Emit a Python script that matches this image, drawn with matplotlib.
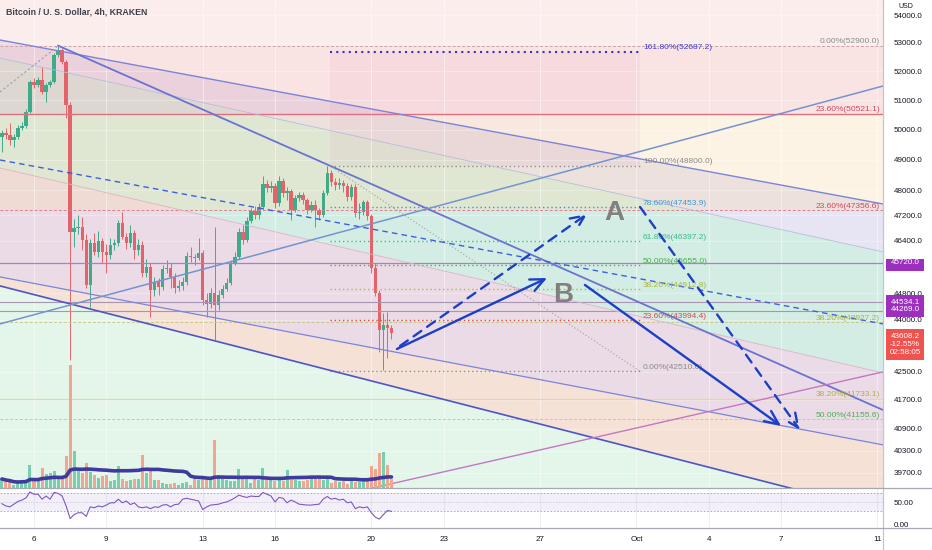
import numpy as np
import pandas as pd
import matplotlib
matplotlib.use("Agg")
import matplotlib.pyplot as plt
from matplotlib.patches import Rectangle
from matplotlib.lines import Line2D
import matplotlib.transforms as mtransforms

plt.rcParams['font.family'] = ['Liberation Sans', 'DejaVu Sans']

# ---------------- data ----------------
# x axis: days since Sep 6 00:00 ; 4h candles, first candle Sep 4 16:00
candle_start_day = -4 / 3
bar_days = 1 / 6

first_open = 49752
closes = [49886, 49819, 49652, 49752, 50054, 50121, 50594, 51625, 51520, 51694,
          51279, 51520, 51625, 52569, 52746, 52322, 50833, 46677, 46803, 46834,
          46427, 45046, 46333, 46055, 46396, 46055, 45962, 46271, 46333, 46960,
          46521, 46333, 46646, 46117, 46271, 45410, 45593, 44895, 45137, 44986,
          45532, 45562, 45288, 44955, 45016, 45137, 45931, 45900, 45870, 46024,
          44594, 44475, 44804, 44445, 44744, 44925, 45107, 45716, 45900, 46677,
          46427, 47022, 47339, 47213, 47467, 48205, 48076, 48141, 47595, 48303,
          47915, 47980, 47371, 47755, 47851, 47691, 47371, 47531, 47371, 47213,
          47915, 48563, 48270, 48173, 48238, 48141, 47787, 48109, 47276, 47308,
          47627, 47181, 45562, 44804, 43705, 43852, 43764, 43608]
highs = [50000, 50050, 50220, 49850, 50150, 50250, 50700, 51700, 51750, 51800,
         52147, 51600, 51700, 52650, 52900, 52800, 52400, 50950, 47100, 47200,
         47150, 46600, 46450, 46650, 46700, 46500, 46300, 46500, 46450, 47050,
         47308, 46650, 46900, 46750, 46450, 46400, 45850, 45700, 45300, 45250,
         45650, 45800, 45700, 45400, 45200, 45300, 46050, 46200, 46000, 46500,
         46100, 44800, 44950, 46834, 44900, 45050, 45250, 45800, 46050, 46800,
         46900, 47150, 47450, 47500, 47600, 48450, 48350, 48300, 48250, 48450,
         48400, 48100, 48050, 47850, 47950, 47950, 47750, 47650, 47700, 47450,
         48000, 48800, 48650, 48400, 48400, 48350, 48250, 48200, 48200, 47600,
         47700, 47700, 47250, 45700, 44900, 44207, 44237, 43850]
lows = [49250, 49700, 49500, 49420, 49700, 49980, 50050, 50550, 51400, 51450,
        51200, 50935, 51450, 51580, 52500, 52250, 50400, 42830, 46200, 46600,
        46117, 44950, 44385, 45950, 45900, 45700, 45410, 45850, 46100, 46250,
        46450, 46150, 46200, 45850, 45950, 45300, 45300, 44088, 44700, 44750,
        44900, 45400, 44950, 44800, 44850, 44900, 45050, 45750, 45650, 45800,
        44450, 44100, 44350, 43412, 44300, 44650, 44850, 45050, 45650, 45850,
        46300, 46350, 46950, 47100, 47100, 47400, 47950, 47950, 47450, 47500,
        47800, 47700, 47050, 47300, 47650, 47550, 47250, 47300, 46834, 47050,
        47150, 47850, 48150, 48000, 48050, 47950, 47650, 47700, 47150, 47100,
        47200, 47050, 45400, 44700, 43064, 42540, 42890, 43450]
volume = [9, 7, 6, 3, 5, 7, 8, 23, 8, 8,
          20, 14, 15, 17, 9, 9, 32, 123, 37, 17,
          15, 25, 16, 13, 10, 12, 13, 7, 8, 22,
          9, 7, 8, 9, 9, 33, 15, 18, 8, 8,
          5, 4, 4, 5, 3, 5, 6, 3, 9, 8,
          12, 8, 9, 48, 13, 12, 8, 7, 7, 19,
          10, 9, 5, 9, 8, 20, 9, 8, 7, 8,
          7, 18, 8, 8, 7, 7, 8, 10, 9, 10,
          8, 9, 5, 7, 6, 7, 4, 7, 6, 6,
          7, 9, 22, 19, 35, 36, 23, 9]
rsi = [47, 42, 40, 46, 52, 55, 60, 73, 68, 68,
       57, 64, 57, 72, 70, 64, 42, 14, 23, 27,
       27, 19, 40, 38, 42, 40, 44, 49, 49, 57,
       49, 53, 45, 49, 40, 38, 40, 36, 40, 39,
       44, 45, 40, 45, 46, 57, 59, 57, 55, 53,
       34, 40, 44, 45, 46, 49, 51, 55, 60, 66,
       63, 61, 64, 63, 63, 72, 68, 64, 51, 61,
       59, 49, 55, 51, 46, 45, 44, 44, 45, 46,
       57, 63, 57, 59, 55, 57, 49, 51, 36, 40,
       38, 40, 27, 17, 13, 23, 32, 30]

tick_days = [0, 3, 7, 10, 14, 17, 21, 25, 28, 31, 35]
tick_labels = ['6', '9', '13', '16', '20', '23', '27', 'Oct', '4', '7', '11']
price_ticks = [54000, 53000, 52000, 51000, 50000, 49000, 48000, 47200, 46400,
               44800, 44000, 42500, 41700, 40900, 40300, 39700]

mid_fib_levels = [52687.2, 48800.0, 47453.9, 46397.2, 45655.0, 44912.8, 43994.4, 42510.0]
mid_fib_pcts = ['161.80%', '100.00%', '78.60%', '61.80%', '50.00%', '38.20%', '23.60%', '0.00%']
mid_fib_days = [12.28, 25.15]
right_fib_levels = [52900.0, 50521.1, 47356.6, 43927.2, 41733.1, 41155.6]
right_fib_pcts = ['0.00%', '23.60%', '23.60%', '38.20%', '38.20%', '50.00%']
hlines_levels = [45720.0, 44534.1, 44269.0]
last_price = 43608.2
last_change = '-12.55%'
countdown = '02:58:05'

# trend / channel drawings (day, price)
XMIN, XMAX = -1.411, 35.23
YMIN, YMAX = 39302, 54547
L1 = [(XMIN, 53101), (XMAX, 47563)]
B1 = [(XMIN, 52463), (XMAX, 46055)]
B2 = [(XMIN, 48727), (XMAX, 42461)]
L2 = [(XMIN, 45288), (XMAX, 40457)]
L4 = [(XMIN, 45016), (XMAX, 38679)]
LOWB = [(XMIN, 30000), (XMAX, 30000)]
L3 = [(1.0, 52900), (XMAX, 41416)]
L5 = [(XMIN, 43882), (XMAX, 51485)]
L6 = [(14.07, 39304), (XMAX, 42490)]
L7 = [(XMIN, 48989), (XMAX, 43881)]
L8 = [(12.28, 48800), (25.15, 42510)]
LP = [(XMIN, 51279), (0.95, 52852)]

arrow_solid_1 = [(15.06, 43149), (21.29, 45256)]
arrow_dash_1 = [(15.19, 43238), (22.95, 47244)]
arrow_solid_2 = [(22.86, 45046), (31.0, 40977)]
arrow_dash_2 = [(25.15, 47467), (31.78, 40867)]
label_A = (24.1, 47276)
label_B = (21.95, 44744)

# ---------------- figure ----------------
W, H = 932, 550
fig = plt.figure(figsize=(W / 100, H / 100), dpi=100)
fig.patch.set_facecolor('white')
main_rect = [0, 1 - 488 / H, 883 / W, 488 / H]
rsi_rect = [0, 1 - 528 / H, 883 / W, 40 / H]
ax = fig.add_axes(main_rect)
ax_r = fig.add_axes(rsi_rect, sharex=ax)
ax_v = fig.add_axes(main_rect, sharex=ax)
ax.set_zorder(1)
ax_v.set_zorder(2)
ax_v.patch.set_visible(False)
ax_v.axis('off')

ax.set_yscale('log')
ax.set_xlim(XMIN, XMAX)
ax.set_ylim(YMIN, YMAX)

n = len(closes)
days = candle_start_day + np.arange(n) * bar_days
closes_a = np.array(closes, float)
opens_a = np.r_[first_open, closes_a[:-1]]
up = closes_a >= opens_a

# ---- channel fills ----
def band(top, bot, color, z=0.5):
    ax.fill([top[0][0], top[1][0], bot[1][0], bot[0][0]],
            [top[0][1], top[1][1], bot[1][1], bot[0][1]],
            color=color, lw=0, zorder=z)

band(L1, B1, '#e7e4f4')
band(B1, B2, '#d4ede4')
band(B2, L2, '#ebdbe6')
band(L2, L4, '#f5e1d6')
band(L4, LOWB, '#e4f6ea')

# ---- fib band overlays ----
ax.fill_between([XMIN, XMAX], [52900] * 2, [YMAX] * 2, color='#f7c6c6', alpha=0.3, lw=0, zorder=0.6)
ax.fill_between([XMIN, XMAX], [50521.1] * 2, [52900] * 2, color='#f3b0b0', alpha=0.35, lw=0, zorder=0.6)
ax.fill_between([XMIN, XMAX], [47356.6] * 2, [50521.1] * 2, color='#f8dcae', alpha=0.33, lw=0, zorder=0.6)
ax.fill_between(mid_fib_days, [48800] * 2, [52687.2] * 2, color='#e2aac6', alpha=0.15, lw=0, zorder=0.6)

# grid
for d in tick_days:
    ax.axvline(d, color='white', alpha=0.45, lw=0.8, zorder=0.8)
    ax_r.axvline(d, color='#eef0f4', lw=0.8, zorder=0)
for p in price_ticks:
    ax.axhline(p, color='white', alpha=0.3, lw=0.8, zorder=0.8)

# ---- candles ----
green, red = '#40ab89', '#e2646a'
cols = np.where(up, green, red)
ax.vlines(days, lows, highs, colors=cols, lw=0.7, zorder=2)
body_h = np.maximum(np.abs(closes_a - opens_a), 12)
ax.bar(days, body_h, bottom=np.minimum(opens_a, closes_a), width=0.14,
       color=cols, lw=0, zorder=2.1)

# ---- volume ----
vol = np.array(volume, float)
vcols = np.where(up, '#76cfae', '#f2a58f')
ax_v.bar(days, vol, width=0.125, color=vcols, lw=0)
vol_ma = pd.Series(vol).rolling(30, min_periods=1).mean()
ax_v.plot(days, vol_ma, color='#3f3a9e', lw=2.6, solid_capstyle='round')
ax_v.set_ylim(0, 488)

# ---- horizontal levels ----
def seg(pts, **kw):
    ax.plot([pts[0][0], pts[1][0]], [pts[0][1], pts[1][1]], **kw)

rf_styles = [dict(color='#c9a2aa', lw=0.7, ls=(0, (3, 2))),
             dict(color='#e07080', lw=1.0, ls='-'),
             dict(color='#e07f8d', lw=0.7, ls=(0, (3, 2))),
             dict(color='#c9ca86', lw=0.7, ls=(0, (3, 2))),
             dict(color='#e4d99a', lw=0.9, ls='-'),
             dict(color='#b6d299', lw=0.7, ls=(0, (3, 2)))]
rf_colors = ['#8c8c8c', '#d2485e', '#d2485e', '#a9b43e', '#b2ad45', '#4caf50']
for lev, pct, st, c in zip(right_fib_levels, right_fib_pcts, rf_styles, rf_colors):
    ax.axhline(lev, zorder=3, **st)
    ax.annotate(f'{pct}({lev:.1f})', xy=(35.1, lev), xytext=(0, 0.6),
                textcoords='offset points', ha='right', va='bottom',
                fontsize=6, color=c, zorder=4)

ax.axhline(hlines_levels[0], color='#b07cc8', lw=0.9, zorder=3)
ax.axhline(hlines_levels[1], color='#a995b2', lw=0.8, zorder=3)
ax.axhline(hlines_levels[2], color='#a995b2', lw=0.8, zorder=3)

mf_line_colors = ['#3434c4', '#8f8f8f', '#3e9ad6', '#3dbb8a', '#4fb04f', '#aebc3e', '#e04848', '#8f8f8f']
mf_text_colors = ['#3b3bc8', '#8a8a8a', '#3a9ad9', '#3cb88a', '#4caf50', '#a8b840', '#d84848', '#8a8a8a']
for i, (lev, pct) in enumerate(zip(mid_fib_levels, mid_fib_pcts)):
    lw = 1.5 if i == 0 else 1.0
    ax.hlines(lev, mid_fib_days[0], mid_fib_days[1], colors=mf_line_colors[i],
              lw=lw, linestyles=(0, (1, 2)), zorder=3)
    ax.annotate(f'{pct}({lev:.1f})', xy=(mid_fib_days[1] + 0.12, lev), xytext=(0, 0.3),
                textcoords='offset points', ha='left', va='bottom',
                fontsize=6, color=mf_text_colors[i], zorder=4)

# ---- trend lines ----
seg(B1, color='#b7bbdc', lw=0.6, zorder=3)
seg(B2, color='#dcb2c8', lw=0.6, zorder=3)
seg(L1, color='#7c84d8', lw=1.0, zorder=3)
seg(L2, color='#7c84d8', lw=0.9, zorder=3)
seg(L3, color='#6a73d0', lw=1.3, zorder=3)
seg(L4, color='#4d55c8', lw=1.2, zorder=3)
seg(L5, color='#7494d0', lw=1.1, zorder=3)
seg(L6, color='#c377c4', lw=1.0, zorder=3)
seg(L7, color='#3d5fe0', lw=1.0, ls=(0, (4, 3)), zorder=3)
seg(L8, color='#a0a0a0', lw=0.8, ls=(0, (1, 2)), zorder=3)
seg(LP, color='#a0a0a0', lw=0.8, ls=(0, (2, 2)), zorder=3)

# ---- arrows ----
acol = '#1c3fc6'
def arrow(pts, dashed=False):
    props = dict(arrowstyle='->,head_length=1.0,head_width=0.45', color=acol,
                 lw=1.7, shrinkA=0, shrinkB=0)
    if dashed:
        props['linestyle'] = (0, (4, 3))
    ax.annotate('', xy=pts[1], xytext=pts[0], arrowprops=props, zorder=5)

arrow(arrow_solid_1)
arrow(arrow_dash_1, dashed=True)
arrow(arrow_solid_2)
arrow(arrow_dash_2, dashed=True)

ax.text(*label_A, 'A', fontsize=20, fontweight='bold', color='#808080', ha='center', va='center', zorder=5)
ax.text(*label_B, 'B', fontsize=20, fontweight='bold', color='#808080', ha='center', va='center', zorder=5)

# ---- axes styling ----
for s in ax.spines.values():
    s.set_visible(False)
for s in ax_r.spines.values():
    s.set_visible(False)
ax.yaxis.tick_right()
ax.set_yticks(price_ticks)
ax.set_yticklabels([f'{p:.1f}' for p in price_ticks])
ax.yaxis.set_minor_locator(matplotlib.ticker.NullLocator())
ax.yaxis.set_minor_formatter(matplotlib.ticker.NullFormatter())
ax.tick_params(axis='y', length=0, pad=8, labelsize=5.8, labelcolor='#131722')
ax.tick_params(axis='x', length=0, labelbottom=False)

ax.text(6 / 883, 1 - 12.5 / 488, 'Bitcoin / U. S. Dollar, 4h, KRAKEN', transform=ax.transAxes,
        fontsize=6.3, fontweight='bold', color='#3d404a', va='center', ha='left', zorder=10)

# price label boxes on the scale
btr = mtransforms.blended_transform_factory(ax.transAxes, ax.transData)
def price_box(p_top, p_bot, color, text, p_text):
    ax.add_patch(Rectangle((1.0034, p_bot), 0.043, p_top - p_bot, transform=btr,
                           facecolor=color, edgecolor='none', clip_on=False, zorder=10))
    ax.text(1.0034 + 0.0215, p_text, text, transform=btr, ha='center', va='center',
            fontsize=5.8, color='white', clip_on=False, zorder=11, linespacing=1.15)

price_box(45838, 45471, '#9d2fbf', f'{hlines_levels[0]:.1f}', hlines_levels[0])
price_box(44744, 44086, '#9d2fbf', f'{hlines_levels[1]:.1f}\n{hlines_levels[2]:.1f}', 44410)
price_box(43732, 42833, '#ef5350', f'{last_price:.1f}\n{last_change}\n{countdown}', 43280)

# ---- RSI ----
ax_r.set_ylim(-6.8, 81.8)
ax_r.axhspan(30, 70, color='#7e57c2', alpha=0.09, lw=0)
for lv in (70, 30):
    ax_r.axhline(lv, color='#a0a2ab', lw=0.6, ls=(0, (2, 2)))
ax_r.axhline(50, color='#c4c5cc', lw=0.5, ls=(0, (2, 2)))
ax_r.plot(days, rsi, color='#7e57c2', lw=0.8)
ax_r.yaxis.tick_right()
ax_r.set_yticks([0, 50])
ax_r.set_yticklabels(['0.00', '50.00'])
ax_r.tick_params(axis='y', length=0, pad=8, labelsize=5.8, labelcolor='#131722')
ax_r.set_xticks(tick_days)
ax_r.set_xticklabels(tick_labels)
ax_r.tick_params(axis='x', length=0, pad=6, labelsize=5.8, labelcolor='#131722')

# separators and scale border
fig.add_artist(Line2D([883 / W] * 2, [0, 1], transform=fig.transFigure, color='#c3c6ce', lw=0.9, zorder=5))
fig.add_artist(Line2D([0, 1], [1 - 488 / H] * 2, transform=fig.transFigure, color='#a6a9b1', lw=0.9, zorder=5))
fig.add_artist(Line2D([0, 1], [1 - 528 / H] * 2, transform=fig.transFigure, color='#a6a9b1', lw=0.9, zorder=5))
fig.text(906 / W, 1 - 7 / H, 'USD', fontsize=5.0, color='#131722', ha='center', va='center',
         bbox=dict(fc='white', ec='none', pad=0.4), zorder=6)

fig.savefig('out.png', dpi=100, facecolor='white')
